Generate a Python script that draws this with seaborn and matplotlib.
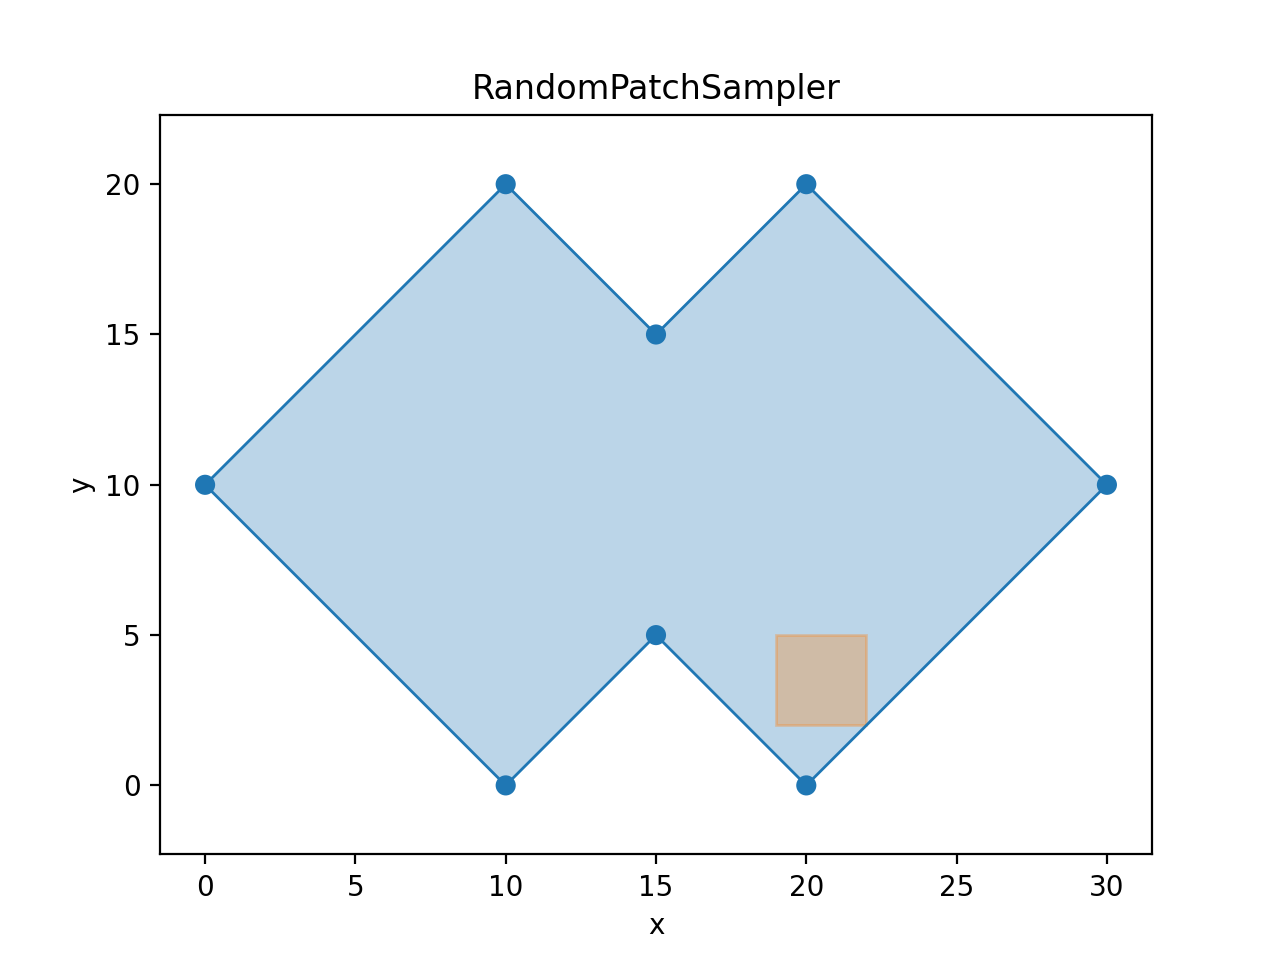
import matplotlib
matplotlib.use("Agg")
import matplotlib.pyplot as plt
import seaborn as sns
import pandas as pd
from matplotlib.patches import Rectangle

# Polygon vertices
poly_x = [0, 10, 15, 20, 30, 20, 15, 10]
poly_y = [10, 20, 15, 20, 10, 0, 5, 0]

# Sampled patch (x range, y range)
patch_x = [19, 22]
patch_y = [2, 5]

sns.set_style("ticks", rc={"text.color": "black", "axes.labelcolor": "black",
                           "xtick.color": "black", "ytick.color": "black",
                           "axes.edgecolor": "black"})
plt.rcParams['font.family'] = ['DejaVu Sans']

fig, ax = plt.subplots(figsize=(12.8, 9.6), dpi=100)

closed = pd.DataFrame({"x": poly_x + poly_x[:1], "y": poly_y + poly_y[:1]})
ax.fill(poly_x, poly_y, color="#1f77b4", alpha=0.3, linewidth=0)
sns.lineplot(data=closed, x="x", y="y", sort=False, estimator=None,
             color="#1f77b4", linewidth=2.0, ax=ax)
sns.scatterplot(x=poly_x, y=poly_y, color="#1f77b4", s=210, edgecolor="none", ax=ax, zorder=3)

ax.add_patch(Rectangle((patch_x[0], patch_y[0]), patch_x[1] - patch_x[0], patch_y[1] - patch_y[0],
                       facecolor="#ff7f0e", edgecolor="#ff7f0e", alpha=0.3, linewidth=2))

ax.set_aspect("equal", adjustable="datalim")
ax.set_xlim(-1.5, 31.5)
ax.set_ylim(-1, 21)
ax.set_xticks([0, 5, 10, 15, 20, 25, 30])
ax.set_yticks([0, 5, 10, 15, 20])
ax.tick_params(labelsize=20, length=7, width=1.6, pad=7)
ax.set_xlabel("x", fontsize=20, labelpad=7)
ax.set_ylabel("y", fontsize=20, labelpad=7)
ax.set_title("RandomPatchSampler", fontsize=24, pad=12)
for s in ax.spines.values():
    s.set_visible(True)
    s.set_linewidth(1.6)

fig.subplots_adjust(left=0.125, right=0.9, bottom=0.11, top=0.88)
fig.savefig("out.png", dpi=100)
